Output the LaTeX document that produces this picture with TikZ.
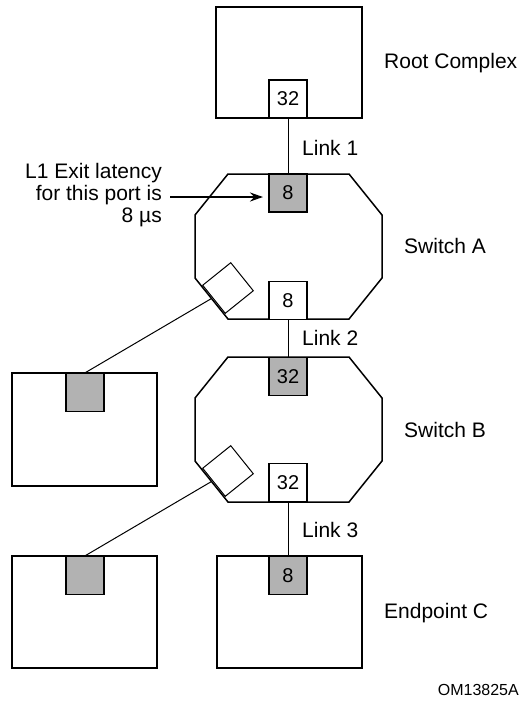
\documentclass[tikz,border=0pt]{standalone}
\usepackage{fontspec}
\setmainfont{Liberation Sans}
\usetikzlibrary{arrows.meta}
\begin{document}
\begin{tikzpicture}[x=1pt,y=-1pt,
  lbl/.style={font=\fontsize{21}{22}\selectfont, inner sep=0pt},
  bigbox/.style={draw, line width=1.9pt, fill=white, inner sep=0pt, minimum width=145pt, minimum height=112pt},
  port/.style={draw, line width=1.3pt, fill=white, inner sep=0pt, minimum size=38pt, font=\fontsize{20}{20}\selectfont},
  gport/.style={port, fill=black!30},
  sw/.style={line width=1.5pt, fill=white, line join=miter},
  tilt/.style={draw, line width=1pt, fill=white, inner sep=0pt, minimum size=36pt, rotate=38.8},
  wire/.style={line width=1pt}
]
\useasboundingbox (0,0) rectangle (522,709);

% Root complex
\node[bigbox, minimum width=146pt, minimum height=111pt] (root) at (289,62.5) {};
\node[port] (rp) at (288,99) {32};

% Switch A
\draw[sw] (228,174) -- (349,174) -- (382,215) -- (382,278) -- (349,319) -- (228,319) -- (195,278) -- (195,215) -- cycle;
\coordinate (ca) at (211.5,298.5);
\node[tilt] (sqa) at (228,288) {};
\node[gport] (ap1) at (288,193) {8};
\node[port] (ap2) at (288,300.5) {8};

% Switch B
\draw[sw] (228,357) -- (349,357) -- (382,398) -- (382,461) -- (349,502) -- (228,502) -- (195,461) -- (195,398) -- cycle;
\coordinate (cb) at (211.5,481.5);
\node[tilt] (sqb) at (228,471) {};
\node[gport] (bp1) at (288,376.5) {32};
\node[port] (bp2) at (288,482.5) {32};

% Left endpoints
\node[bigbox, minimum height=113pt] (la) at (84.5,429.5) {};
\node[gport] (lap) at (85,392.5) {};
\node[bigbox] (lb) at (84.5,612) {};
\node[gport] (lbp) at (85,575.5) {};

% Endpoint C
\node[bigbox] (ec) at (289.5,612) {};
\node[gport] (ecp) at (288,575.5) {8};

% Connectors
\draw[wire] (rp.south) -- (ap1.north);
\draw[wire] (ap2.south) -- (bp1.north);
\draw[wire] (bp2.south) -- (ecp.north);
\draw[wire] (ca) -- (lap.north);
\draw[wire] (cb) -- (lbp.north);

% Labels
\node[lbl, anchor=west] (t1) at (384,63) {Root Complex};
\node[lbl, anchor=west] (t2) at (302,148) {Link 1};
\node[lbl, anchor=west] (t3) at (404,246) {Switch A};
\node[lbl, anchor=west] (t4) at (302,338) {Link 2};
\node[lbl, anchor=west] (t5) at (404,430) {Switch B};
\node[lbl, anchor=west] (t6) at (302,530) {Link 3};
\node[lbl, anchor=west] (t7) at (384,613) {Endpoint C};
\node[lbl, anchor=east, font=\fontsize{16}{16}\selectfont] (t8) at (519,690) {OM13825A};

\node[lbl, anchor=east, align=right] (note) at (162,195) {L1 Exit latency\\for this port is\\8 µs};
\coordinate (arrs) at (170,197);
\coordinate (arre) at (263,197);
\draw[line width=2.6pt, -{Stealth[length=13pt,width=9pt]}] (arrs) -- (arre);
\end{tikzpicture}
\end{document}
